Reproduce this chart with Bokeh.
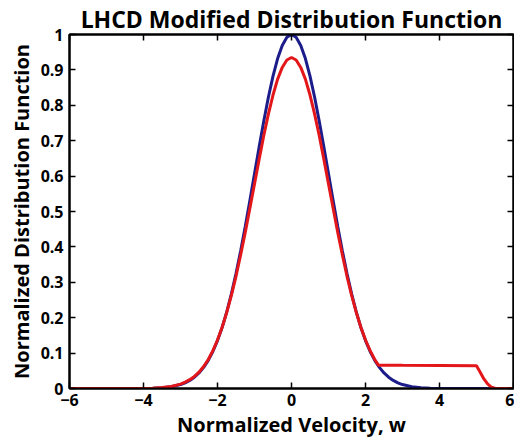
from bokeh.plotting import figure
from bokeh.models import LinearAxis, FixedTicker, Range1d
from bokeh.embed import file_html
from bokeh.resources import INLINE

# ---- data ----
w_blue = [-6, -5, -4.5, -4, -3.75, -3.5, -3.25, -3, -2.875, -2.75, -2.625, -2.5,
          -2.375, -2.25, -2.125, -2, -1.875, -1.75, -1.625, -1.5, -1.375, -1.25,
          -1.125, -1, -0.875, -0.75, -0.625, -0.5, -0.375, -0.25, -0.125, 0,
          0.125, 0.25, 0.375, 0.5, 0.625, 0.75, 0.875, 1, 1.125, 1.25, 1.375, 1.5,
          1.625, 1.75, 1.875, 2, 2.125, 2.25, 2.375, 2.5, 2.625, 2.75, 2.875, 3,
          3.25, 3.5, 3.75, 4, 4.5, 5, 6]
f_blue = [0, 0, 0, 0.0003, 0.0009, 0.0022, 0.0051, 0.0111, 0.016, 0.0228, 0.0319, 0.0439,
          0.0596, 0.0796, 0.1046, 0.1353, 0.1724, 0.2163, 0.2671, 0.3247, 0.3886, 0.4578,
          0.5311, 0.6065, 0.6819, 0.7548, 0.8226, 0.8825, 0.9321, 0.9692, 0.9922, 1.0,
          0.9922, 0.9692, 0.9321, 0.8825, 0.8226, 0.7548, 0.6819, 0.6065, 0.5311, 0.4578, 0.3886, 0.3247,
          0.2671, 0.2163, 0.1724, 0.1353, 0.1046, 0.0796, 0.0596, 0.0439, 0.0319, 0.0228, 0.016, 0.0111,
          0.0051, 0.0022, 0.0009, 0.0003, 0, 0, 0]

w_red = [-6, -5, -4.5, -4, -3.75, -3.5, -3.25, -3, -2.875, -2.75, -2.625, -2.5,
         -2.375, -2.25, -2.125, -2, -1.875, -1.75, -1.625, -1.5, -1.375, -1.25,
         -1.125, -1, -0.875, -0.75, -0.625, -0.5, -0.375, -0.25, -0.125, 0,
         0.125, 0.25, 0.375, 0.5, 0.625, 0.75, 0.875, 1, 1.125, 1.25, 1.375, 1.5,
         1.625, 1.75, 1.875, 2, 2.125, 2.25, 2.35, 3, 4, 5,
         5.1, 5.2, 5.3, 5.4, 5.5, 5.6, 6]
f_red = [0, 0, 0, 0.0003, 0.0008, 0.0026, 0.0058, 0.0124, 0.018, 0.025, 0.034, 0.046,
         0.062, 0.082, 0.107, 0.137, 0.173, 0.215, 0.263, 0.317, 0.377, 0.441,
         0.509, 0.578, 0.647, 0.714, 0.775, 0.829, 0.874, 0.907, 0.928, 0.935,
         0.928, 0.907, 0.874, 0.829, 0.775, 0.714, 0.647, 0.578, 0.509, 0.441, 0.377, 0.317,
         0.263, 0.215, 0.173, 0.137, 0.107, 0.082, 0.066, 0.0655, 0.065, 0.064,
         0.046, 0.027, 0.013, 0.004, 0.001, 0, 0]

x_ticks = [-6, -4, -2, 0, 2, 4, 6]
y_ticks = [0, 0.1, 0.2, 0.3, 0.4, 0.5, 0.6, 0.7, 0.8, 0.9, 1]
y_tick_labels = ["0", "0.1", "0.2", "0.3", "0.4", "0.5", "0.6", "0.7", "0.8", "0.9", "1"]

title_text = "LHCD Modified Distribution Function"
x_label = "Normalized Velocity, w"
y_label = "Normalized Distribution Function"

FONT = "Open Sans"

p = figure(width=514, height=443, output_backend="svg", toolbar_location=None,
           x_range=Range1d(-6, 6), y_range=Range1d(0, 1),
           min_border_left=69, min_border_right=1, min_border_top=32, min_border_bottom=55)

p.title.text = title_text
p.title.align = "center"
p.title.text_font = FONT
p.title.text_font_size = "23px"
p.title.text_font_style = "bold"
p.title.text_color = "black"
p.title.offset = 0
p.title.standoff = 0

p.xgrid.visible = False
p.ygrid.visible = False
p.outline_line_color = "black"
p.outline_line_width = 2
p.outline_line_alpha = 1

def style_axis(ax):
    ax.axis_line_color = "black"
    ax.axis_line_width = 2
    ax.major_tick_in = 6
    ax.major_tick_out = 0
    ax.major_tick_line_width = 1.5
    ax.minor_tick_in = 6
    ax.minor_tick_out = 0
    ax.minor_tick_line_width = 1.5
    ax.minor_tick_line_color = "black"
    ax.major_label_text_font = FONT
    ax.major_label_text_font_style = "bold"
    ax.major_label_text_font_size = "16px"
    ax.major_label_text_color = "black"
    ax.axis_label_text_font = FONT
    ax.axis_label_text_font_style = "bold"
    ax.axis_label_text_font_size = "20px"
    ax.axis_label_text_color = "black"

xa = p.xaxis[0]
xa.ticker = FixedTicker(ticks=x_ticks)
style_axis(xa)
xa.minor_tick_line_color = None
xa.axis_label = x_label
xa.major_label_standoff = 5
xa.axis_label_standoff = 2

ya = p.yaxis[0]
ya.ticker = FixedTicker(ticks=y_ticks)
ya.major_label_overrides = {t: s for t, s in zip(y_ticks, y_tick_labels)}
style_axis(ya)
ya.minor_tick_line_color = None
ya.axis_label = y_label
ya.major_label_standoff = 6
ya.axis_label_standoff = 3

# mirror ticks on top and right: drawn as minor ticks so that no labels exist
top = LinearAxis(ticker=FixedTicker(ticks=[], minor_ticks=x_ticks))
style_axis(top)
top.major_label_standoff = 0
right = LinearAxis(ticker=FixedTicker(ticks=[], minor_ticks=y_ticks))
style_axis(right)
right.major_label_standoff = 0
p.add_layout(top, "above")
p.add_layout(right, "right")

p.line(w_blue, f_blue, line_color="#1c1c8a", line_width=3)
p.line(w_red, f_red, line_color="#e3161a", line_width=3)

open("out.html", "w").write(file_html(p, INLINE))
